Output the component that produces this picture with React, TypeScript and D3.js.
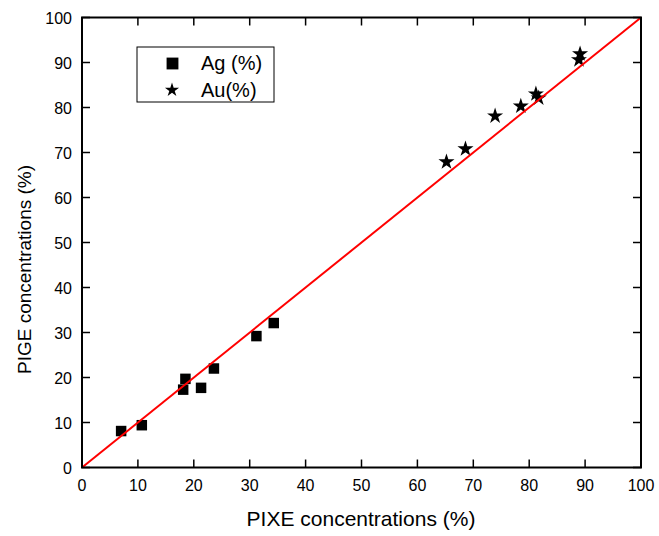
import React from "react";
import * as d3 from "d3";

// Ag (%) – PIXE vs PIGE
const agPixe = [7.0, 10.7, 18.1, 18.5, 21.3, 23.6, 31.2, 34.3];
const agPige = [8.1, 9.4, 17.3, 19.7, 17.7, 22.0, 29.2, 32.1];

// Au (%) – PIXE vs PIGE
const auPixe = [65.2, 68.6, 73.9, 78.5, 81.2, 81.7, 88.9, 89.1];
const auPige = [67.9, 70.8, 78.1, 80.3, 83.0, 82.1, 90.6, 91.9];

const ticks = [0, 10, 20, 30, 40, 50, 60, 70, 80, 90, 100];
const fitLine = [0, 100];

const W = 659;
const H = 536;
const m = { left: 82, right: 18, top: 17.5, bottom: 68.5 };
const FONT = "'Liberation Sans', Arial, Helvetica, sans-serif";

export default function App() {
  const x = d3.scaleLinear().domain([0, 100]).range([m.left, W - m.right]);
  const y = d3.scaleLinear().domain([0, 100]).range([H - m.bottom, m.top]);

  const square = d3.symbol(d3.symbolSquare, 110)()!;
  const star = d3.symbol(d3.symbolStar, 80)()!;
  const legSquare = d3.symbol(d3.symbolSquare, 140)()!;
  const legStar = d3.symbol(d3.symbolStar, 62)()!;

  const tickLen = 8;
  const x0 = x(0), x1 = x(100), y0 = y(0), y1 = y(100);

  return (
    <svg
      width={W}
      height={H}
      style={{ position: "absolute", left: 0, top: 0, background: "#fff" }}
      fontFamily={FONT}
    >
      {/* ticks, inward on all four sides */}
      <g stroke="#000" strokeWidth={1.5}>
        {ticks.map((t) => (
          <g key={t}>
            <line x1={x(t)} x2={x(t)} y1={y0} y2={y0 - tickLen} />
            <line x1={x(t)} x2={x(t)} y1={y1} y2={y1 + tickLen} />
            <line x1={x0} x2={x0 + tickLen} y1={y(t)} y2={y(t)} />
            <line x1={x1} x2={x1 - tickLen} y1={y(t)} y2={y(t)} />
          </g>
        ))}
      </g>

      {/* tick labels */}
      <g fontSize={16} fill="#000">
        {ticks.map((t) => (
          <text key={"x" + t} x={x(t)} y={y0 + 23} textAnchor="middle">
            {t}
          </text>
        ))}
        {ticks.map((t) => (
          <text key={"y" + t} x={x0 - 10} y={y(t) + 6} textAnchor="end">
            {t}
          </text>
        ))}
      </g>

      {/* data */}
      <g fill="#000">
        {agPixe.map((v, i) => (
          <path key={"ag" + i} d={square} transform={`translate(${x(v)},${y(agPige[i])})`} />
        ))}
        {auPixe.map((v, i) => (
          <path key={"au" + i} d={star} transform={`translate(${x(v)},${y(auPige[i])})`} />
        ))}
      </g>

      {/* y = x reference line */}
      <line
        x1={x(fitLine[0])}
        y1={y(fitLine[0])}
        x2={x(fitLine[1])}
        y2={y(fitLine[1])}
        stroke="#ff0000"
        strokeWidth={2}
      />

      {/* frame */}
      <rect x={x0} y={y1} width={x1 - x0} height={y0 - y1} fill="none" stroke="#000" strokeWidth={2} />

      {/* legend */}
      <g>
        <rect x={137} y={47} width={137} height={55} fill="#fff" stroke="#000" strokeWidth={1} />
        <path d={legSquare} transform="translate(172.5,63.5)" fill="#000" />
        <path d={legStar} transform="translate(172,90)" fill="#000" />
        <text x={201} y={70} fontSize={20}>Ag (%)</text>
        <text x={201} y={97} fontSize={20}>Au(%)</text>
      </g>

      {/* axis titles */}
      <text x={361} y={526} textAnchor="middle" fontSize={21}>
        PIXE concentrations (%)
      </text>
      <text
        transform={`translate(31,${(y0 + y1) / 2 + 27}) rotate(-90)`}
        textAnchor="middle"
        fontSize={19}
      >
        PIGE concentrations (%)
      </text>
    </svg>
  );
}
